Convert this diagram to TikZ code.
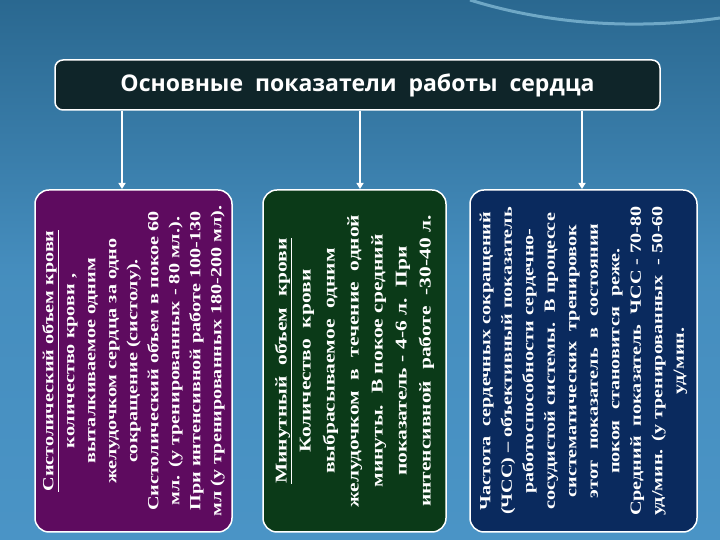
\documentclass[tikz,border=0pt]{standalone}
\usepackage{fontspec}
\setmainfont{Liberation Serif}[FakeStretch=1.3]
\newfontfamily\hdrfont{Open Sans}
\usetikzlibrary{arrows.meta}
\definecolor{bgtop}{HTML}{2A6890}
\definecolor{bgbot}{HTML}{4A94C6}
\definecolor{hdrc}{HTML}{0F2529}
\definecolor{purp}{HTML}{5E0B5F}
\definecolor{grn}{HTML}{0B3A18}
\definecolor{blu}{HTML}{0A2A5E}
\tikzset{
  card/.style={draw=white,line width=1.5pt,rounded corners=14pt,minimum height=342pt,inner sep=0pt},
  vtext/.style={rotate=90,text=white,align=center,inner sep=0pt,font=\fontsize{15.5}{21}\selectfont\bfseries},
  arr/.style={draw=white,line width=1.8pt,-{Triangle[width=7pt,length=6pt]}}
}
\begin{document}
\begin{tikzpicture}[x=1pt,y=1pt]
\shade[top color=bgtop,bottom color=bgbot,middle color=bgbot!85!bgtop] (0,0) rectangle (720,540);
\useasboundingbox (0,0) rectangle (720,540);
\draw[white!70!cyan,opacity=0.5,line width=3pt] (470,540) .. controls (560,512) and (650,512) .. (720,522);
\node[draw=white,line width=1.5pt,fill=hdrc,rounded corners=8pt,minimum width=605pt,minimum height=50pt,
  text=white,font=\hdrfont\fontsize{23}{26}\selectfont\bfseries] (hdr) at (357.5,455)
  {Основные\ \ показатели\ \ работы\ \ сердца};
\node[card,fill=purp,minimum width=197pt] (L) at (133.5,179) {};
\node[card,fill=grn,minimum width=183pt] (M) at (354.5,179) {};
\node[card,fill=blu,minimum width=227pt] (R) at (583.5,179) {};
\node[vtext,text width=330pt] (Lt) at (L.center) {%
\underline{Систолический объем крови}\\
количество крови ,\\
выталкиваемое одним\\
желудочком сердца за одно\\
сокращение (систолу).\\
Систолический объем в покое 60\\
мл. (у тренированных - 80 мл.).\\
При интенсивной работе 100-130\\
мл (у тренированных 180-200 мл).};
\node[vtext,text width=320pt,font=\fontsize{16.5}{24}\selectfont\bfseries] (Mt) at (M.center) {%
\underline{Минутный\ \ объем\ \ крови}\\
Количество\ \ крови\\
выбрасываемое\ \ одним\\
желудочком\ \ в\ \ течение\ \ одной\\
минуты.\ \ В покое средний\\
показатель - 4-6 л.\ \ При\\
интенсивной\ \ работе\ \ -30-40 л.};
\node[vtext,text width=335pt,font=\fontsize{15.5}{21.5}\selectfont\bfseries] (Rt) at (R.center) {%
Частота\ \ сердечных сокращений\\
(ЧСС) – объективный показатель\\
работоспособности сердечно-\\
сосудистой системы.\ \ В процессе\\
систематических\ \ тренировок\\
этот\ \ показатель\ \ в\ \ состоянии\\
покоя\ \ становится\ \ реже.\\
Средний\ \ показатель\ \ ЧСС - 70-80\\
уд/мин. (у тренированных\ \ - 50-60\\
уд/мин.};
\coordinate (a1) at (122,351);
\coordinate (a2) at (360,351);
\coordinate (a3) at (582,351);
\draw[arr] (hdr.south -| a1) -- (a1);
\draw[arr] (hdr.south -| a2) -- (a2);
\draw[arr] (hdr.south -| a3) -- (a3);
\end{tikzpicture}
\end{document}
